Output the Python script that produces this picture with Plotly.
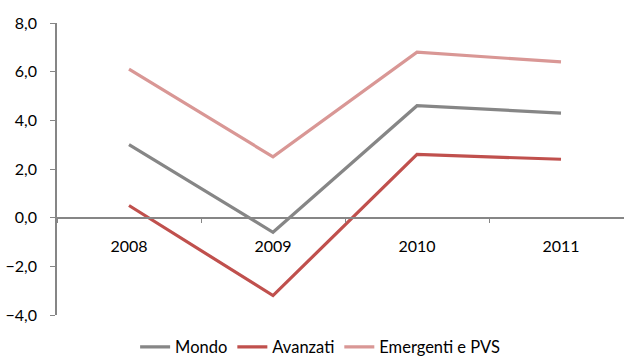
import plotly.graph_objects as go

years = ["2008", "2009", "2010", "2011"]
mondo = [3.0, -0.6, 4.6, 4.3]
avanzati = [0.5, -3.2, 2.6, 2.4]
emergenti = [6.1, 2.5, 6.8, 6.4]

series = [
    ("Mondo", mondo, "#868686"),
    ("Avanzati", avanzati, "#C0504D"),
    ("Emergenti e PVS", emergenti, "#D99795"),
]

fig = go.Figure()
for name, vals, color in series:
    fig.add_trace(go.Scatter(
        x=years, y=vals, name=name, mode="lines",
        line=dict(color=color, width=3.2),
    ))

y_min, y_max = -4, 8

fig.update_layout(
    width=624, height=356,
    margin=dict(l=57, r=0, t=23, b=41, autoexpand=False),
    paper_bgcolor="white", plot_bgcolor="white",
    separators=",.",
    font=dict(family="Lato, 'Open Sans', sans-serif", size=16, color="#000000"),
    showlegend=True,
    legend=dict(
        orientation="h",
        xref="container", x=0.513, xanchor="center",
        yref="container", y=0.025, yanchor="middle",
        font=dict(size=16.5),
        tracegroupgap=0,
    ),
    xaxis=dict(
        type="category",
        range=[-0.5, 3.4375],
        anchor="free",
        position=(0 - y_min) / (y_max - y_min),
        showline=True, linecolor="#868686", linewidth=1.5,
        ticks="outside", tickson="boundaries", ticklen=5,
        tickcolor="#868686", tickwidth=1,
        showgrid=False, zeroline=False,
        ticklabelstandoff=14,
    ),
    yaxis=dict(
        range=[y_min, y_max], dtick=2, tickformat=".1f",
        showline=True, linecolor="#868686", linewidth=1.5,
        ticks="outside", ticklen=5, tickcolor="#868686", tickwidth=1,
        showgrid=False, zeroline=False,
        ticklabelstandoff=10,
    ),
)

fig.write_html("out.html")
